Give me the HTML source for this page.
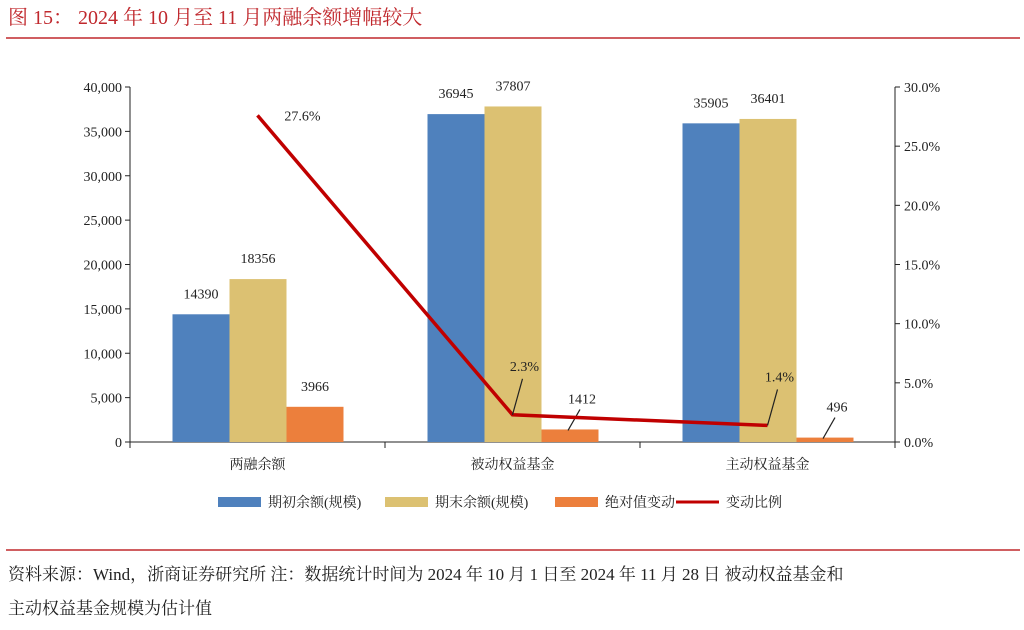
<!DOCTYPE html>
<html><head><meta charset="utf-8"><style>
body{margin:0;width:1024px;height:625px;background:#fff;overflow:hidden;font-family:"Liberation Serif","Noto Serif CJK SC",serif}
</style></head><body>
<svg width="1024" height="625" xmlns="http://www.w3.org/2000/svg" font-family="'Liberation Serif','Noto Serif CJK SC',serif">
<text x="8" y="24" font-size="20" fill="#c0282d">图 15：  2024 年 10 月至 11 月两融余额增幅较大</text>
<line x1="6" y1="38" x2="1020" y2="38" stroke="#c0282d" stroke-width="1.5"/>
<g id="chart"></g>
<line x1="6" y1="550" x2="1020" y2="550" stroke="#c0282d" stroke-width="1.5"/>
<text x="8" y="580" font-size="17" fill="#222">资料来源：Wind，浙商证券研究所 注：数据统计时间为 2024 年 10 月 1 日至 2024 年 11 月 28 日 被动权益基金和</text>
<text x="8" y="614" font-size="17" fill="#222">主动权益基金规模为估计值</text>
</svg>
<script>
const categories=["两融余额","被动权益基金","主动权益基金"];
const startVals=[14390,36945,35905];
const endVals=[18356,37807,36401];
const absChange=[3966,1412,496];
const pctChange=[27.6,2.3,1.4];
const leftTicks=[0,5000,10000,15000,20000,25000,30000,35000,40000];
const rightTicks=[0,5,10,15,20,25,30];
const NS="http://www.w3.org/2000/svg";
const g=document.getElementById('chart');
const L=130,R=895,T=87,B=442;
const yL=v=>B-(v/40000)*(B-T);
const yR=v=>B-(v/30)*(B-T);
const bw=(R-L)/categories.length;
const cx=i=>L+bw*(i+0.5);
function el(t,a,txt){const e=document.createElementNS(NS,t);for(const k in a)e.setAttribute(k,a[k]);if(txt!==undefined)e.textContent=txt;g.appendChild(e);return e;}
// axes
let e=el('line',{x1:L,y1:T,x2:L,y2:B,stroke:'#222'});


e=el('line',{x1:R,y1:T,x2:R,y2:B,stroke:'#222'});


e=el('line',{x1:L,y1:B,x2:R,y2:B,stroke:'#222'});


leftTicks.forEach(v=>{
 el('line',{x1:L-5,y1:yL(v),x2:L,y2:yL(v),stroke:'#222'});
 e=el('text',{x:L-8,y:yL(v)+5,'font-size':14,'text-anchor':'end',fill:'#222'},v.toLocaleString('en-US'));
 
 
});
rightTicks.forEach(v=>{
 el('line',{x1:R,y1:yR(v),x2:R+5,y2:yR(v),stroke:'#222'});
 e=el('text',{x:R+9,y:yR(v)+5,'font-size':14,fill:'#222'},v.toFixed(1)+'%');
 
 
});
for(let i=0;i<=categories.length;i++){el('line',{x1:L+bw*i,y1:B,x2:L+bw*i,y2:B+6,stroke:'#222'});}
const series=[[startVals,'#4f81bd'],[endVals,'#dcc172'],[absChange,'#ec7f3c']];
const w=57;
categories.forEach((c,i)=>{
 e=el('text',{x:cx(i),y:B+27,'font-size':14,'text-anchor':'middle',fill:'#222'},c);
 
 
 series.forEach((s,j)=>{
  const v=s[0][i];const x=cx(i)-85+j*w;
  e=el('rect',{x:x,y:yL(v),width:w,height:B-yL(v),fill:s[1]});
  
  
  if(!(j==2&&i>0)){
   e=el('text',{x:x+w/2,y:yL(v)-16,'font-size':14,'text-anchor':'middle',fill:'#222'},v);
   
   
  }else{
   e=el('text',{x:x+w/2+12,y:yL(v)-26,'font-size':14,'text-anchor':'middle',fill:'#222'},v);
   
   
   el('line',{x1:x+w/2-2,y1:yL(v)+1,x2:x+w/2+10,y2:yL(v)-20,stroke:'#222','stroke-width':1.2});
  }
 });
});
const pts=pctChange.map((v,i)=>[cx(i),yR(v)]);
e=el('polyline',{points:pts.map(p=>p.join(',')).join(' '),fill:'none',stroke:'#c00000','stroke-width':3.5});


pctChange.forEach((v,i)=>{
 const [x,y]=pts[i];
 if(i==0){e=el('text',{x:x+45,y:y+5,'font-size':14,'text-anchor':'middle',fill:'#222'},v.toFixed(1)+'%');}
 else{
  el('line',{x1:x,y1:y,x2:x+10,y2:y-36,stroke:'#222','stroke-width':1.2});
  e=el('text',{x:x+12,y:y-44,'font-size':14,'text-anchor':'middle',fill:'#222'},v.toFixed(1)+'%');
 }
 
 
});
// legend
const leg=[['rect','#4f81bd','期初余额(规模)',218],['rect','#dcc172','期末余额(规模)',385],['rect','#ec7f3c','绝对值变动',555],['line','#c00000','变动比例',676]];
leg.forEach(l=>{
 if(l[0]=='rect')e=el('rect',{x:l[3],y:497,width:43,height:10,fill:l[1]});
 else e=el('line',{x1:l[3],y1:502,x2:l[3]+43,y2:502,stroke:l[1],'stroke-width':3});
 
 
 e=el('text',{x:l[3]+50,y:507,'font-size':14,fill:'#222'},l[2]);
 
 
});
</script>
</body></html>
